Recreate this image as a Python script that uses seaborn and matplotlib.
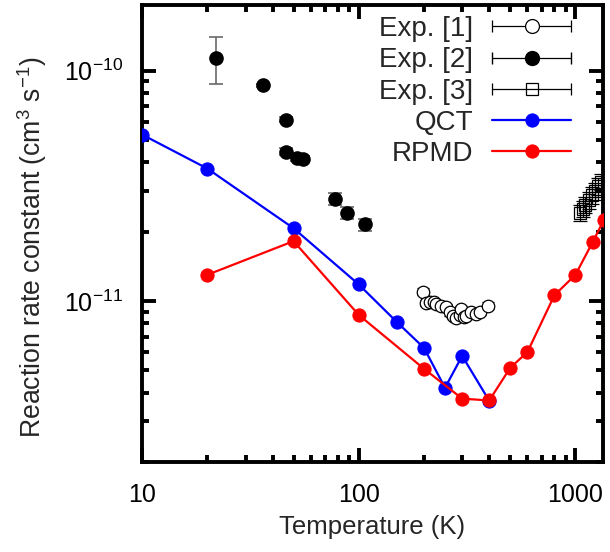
import numpy as np
import pandas as pd
import seaborn as sns
import matplotlib
matplotlib.use('Agg')
import matplotlib.pyplot as plt
from matplotlib.ticker import LogLocator, FixedLocator, FixedFormatter, NullFormatter
from matplotlib.container import ErrorbarContainer
from matplotlib.legend_handler import HandlerErrorbar

# QCT and RPMD results
qct_T = [10, 20, 50, 100, 150, 200, 250, 300, 400]
qct_k = [5.28e-11, 3.76e-11, 2.07e-11, 1.18e-11, 8.1e-12, 6.26e-12, 4.2e-12, 5.78e-12, 3.69e-12]

rpmd_T = [20, 50, 100, 200, 300, 400, 500, 600, 800, 1000, 1200, 1350]
rpmd_k = [1.30e-11, 1.82e-11, 8.7e-12, 5.08e-12, 3.77e-12, 3.7e-12, 5.13e-12, 6.0e-12,
          1.06e-11, 1.30e-11, 1.80e-11, 2.24e-11]

# experiments
exp1_T = [198, 205, 214, 222, 228, 240, 254, 263, 272, 282, 292, 297, 305, 313, 330, 349, 364, 394]
exp1_k = [1.10e-11, 9.8e-12, 9.93e-12, 9.87e-12, 9.7e-12, 9.55e-12, 9.4e-12, 8.93e-12, 8.64e-12,
          8.41e-12, 8.7e-12, 9.23e-12, 8.5e-12, 8.64e-12, 9.0e-12, 8.79e-12, 9.0e-12, 9.55e-12]
exp1_err = [3.5e-13, 3.2e-13, 3.2e-13, 3.2e-13, 3.1e-13, 3.1e-13, 3.0e-13, 2.9e-13, 2.8e-13,
            2.7e-13, 2.8e-13, 3.0e-13, 2.7e-13, 2.8e-13, 2.9e-13, 2.8e-13, 2.9e-13, 3.1e-13]

exp2_T = [22, 36, 46, 46, 52, 55, 78, 88, 107]
exp2_k = [1.135e-10, 8.64e-11, 6.14e-11, 4.45e-11, 4.19e-11, 4.15e-11, 2.78e-11, 2.42e-11, 2.15e-11]
exp2_err = [2.6e-11, 1.5e-12, 1.5e-12, 1.5e-12, 1.2e-12, 1.2e-12, 1.6e-12, 1.4e-12, 1.3e-12]

exp3_T = [1050, 1080, 1110, 1150, 1190, 1230, 1270, 1310]
exp3_k = [2.42e-11, 2.52e-11, 2.62e-11, 2.75e-11, 2.88e-11, 3.0e-11, 3.15e-11, 3.3e-11]
exp3_err = [2.0e-12, 2.1e-12, 2.2e-12, 2.3e-12, 2.4e-12, 2.5e-12, 2.6e-12, 2.7e-12]

sns.set_style('ticks')
plt.rcParams['font.family'] = ['Liberation Sans', 'DejaVu Sans']
plt.rcParams['mathtext.fontset'] = 'custom'
plt.rcParams['mathtext.rm'] = 'Liberation Sans'
plt.rcParams['mathtext.default'] = 'regular'
plt.rcParams['font.size'] = 18

fig = plt.figure(figsize=(6.1, 5.52), dpi=100)
ax = fig.add_axes([0.233, 0.163, 0.7555, 0.828])

qct = pd.DataFrame({'T': qct_T, 'k': qct_k})
rpmd = pd.DataFrame({'T': rpmd_T, 'k': rpmd_k})

# experiments first (drawn under the lines)
ax.errorbar(exp1_T, exp1_k, yerr=exp1_err, fmt='o', ms=9, mfc='white', mec='black', mew=0.9,
            ecolor='black', elinewidth=0.9, capsize=4, capthick=0.9, zorder=3)
ax.errorbar(exp2_T, exp2_k, yerr=exp2_err, fmt='o', ms=9.5, color='black',
            ecolor='dimgray', elinewidth=1.2, capsize=5, capthick=1.2, zorder=3)
ax.errorbar(exp3_T, exp3_k, yerr=exp3_err, fmt='s', ms=8, mfc='none', mec='black', mew=0.9,
            ecolor='black', elinewidth=0.9, capsize=5, capthick=0.9, zorder=3)

sns.lineplot(data=qct, x='T', y='k', ax=ax, color='blue', lw=1.6, marker='o', ms=9.5,
             mec='blue', sort=False, zorder=4)
sns.lineplot(data=rpmd, x='T', y='k', ax=ax, color='red', lw=1.6, marker='o', ms=9.5,
             mec='red', sort=False, zorder=4)

ax.set_xscale('log')
ax.set_yscale('log')
ax.set_xlim(10, 1340)
ax.set_ylim(2.0e-12, 1.93e-10)

ax.xaxis.set_major_locator(FixedLocator([10, 100, 1000]))
ax.xaxis.set_major_formatter(FixedFormatter(['10', '100', '1000']))
ax.xaxis.set_minor_locator(LogLocator(base=10, subs=np.arange(2, 10)))
ax.xaxis.set_minor_formatter(NullFormatter())
ax.yaxis.set_major_locator(FixedLocator([1e-11, 1e-10]))
ax.yaxis.set_major_formatter(FixedFormatter(['$10^{-11}$', '$10^{-10}$']))
ax.yaxis.set_minor_locator(LogLocator(base=10, subs=np.arange(2, 10)))
ax.yaxis.set_minor_formatter(NullFormatter())

ax.tick_params(which='both', direction='in', top=True, right=True, width=2.8, colors='black')
ax.tick_params(which='major', length=10)
ax.tick_params(which='minor', length=5)
ax.tick_params(axis='x', which='major', pad=15)
ax.tick_params(axis='y', which='major', pad=14)
for s in ax.spines.values():
    s.set_visible(True)
    s.set_linewidth(2.8)
    s.set_color('black')

ax.set_xlabel('Temperature (K)', labelpad=6, fontsize=18.5)
ax.set_ylabel('Reaction rate constant (cm$^3$ s$^{-1}$)', fontsize=19.2)
ax.yaxis.set_label_coords(-0.202, 0.47)

# legend with gnuplot style samples
h1 = ax.errorbar([np.nan], [np.nan], xerr=[1], fmt='o', ms=10, mfc='white', mec='black', mew=0.9,
                 ecolor='black', elinewidth=0.9, capsize=4, label='Exp. [1]')
h2 = ax.errorbar([np.nan], [np.nan], xerr=[1], fmt='o', ms=10, color='black',
                 ecolor='black', elinewidth=0.9, capsize=4, label='Exp. [2]')
h3 = ax.errorbar([np.nan], [np.nan], xerr=[1], fmt='s', ms=9, mfc='none', mec='black', mew=0.9,
                 ecolor='black', elinewidth=0.9, capsize=4, label='Exp. [3]')
lines = ax.get_lines()
hq = [l for l in lines if l.get_color() == 'blue'][0]
hr = [l for l in lines if l.get_color() == 'red'][0]
ax.legend([h1, h2, h3, hq, hr], ['Exp. [1]', 'Exp. [2]', 'Exp. [3]', 'QCT', 'RPMD'],
          loc='upper right', bbox_to_anchor=(0.955, 1.0), frameon=False, markerfirst=False,
          fontsize=20, handlelength=2.85, handletextpad=0.68, labelspacing=0.19, borderaxespad=0,
          numpoints=1, handler_map={ErrorbarContainer: HandlerErrorbar(xerr_size=1.42)})

fig.savefig('out.png', dpi=100)
